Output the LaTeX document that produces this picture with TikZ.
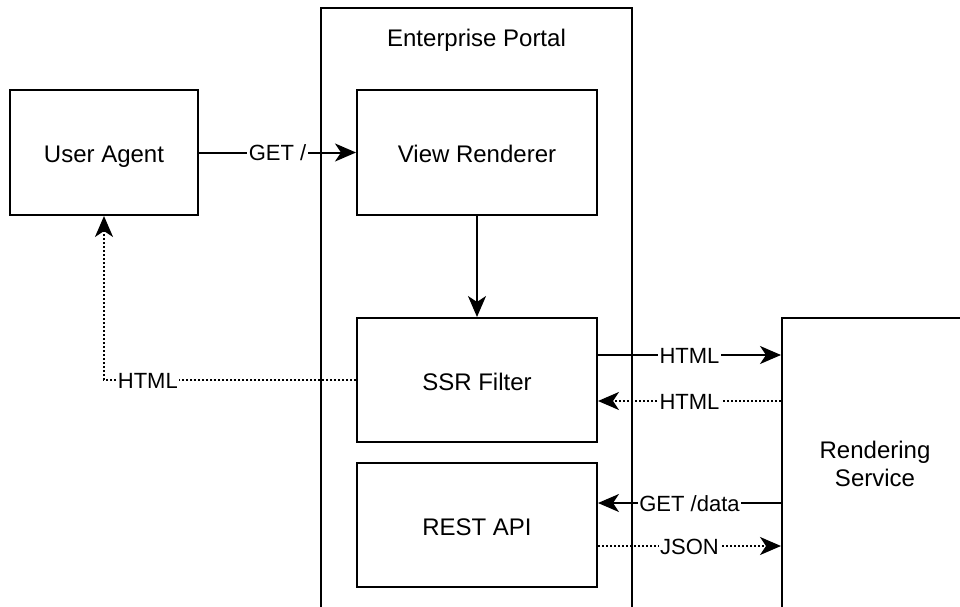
\documentclass[tikz,border=0pt]{standalone}
\usepackage{fontspec}
\setmainfont{Liberation Sans}
\usetikzlibrary{arrows.meta}
\tikzset{
  box/.style={draw, line width=2pt, fill=white, inner sep=0pt, font=\fontsize{24}{28}\selectfont, align=center},
  one/.style={text height=20pt, text depth=0pt},
  lbl/.style={fill=white, inner sep=1.5pt, text height=16pt, text depth=0pt, font=\fontsize{22}{26}\selectfont},
  conn/.style={line width=2pt, -{Stealth[length=21pt,width=18pt,inset=6pt]}},
  dotconn/.style={conn, dash pattern=on 2pt off 2pt},
}
\begin{document}
\begin{tikzpicture}[x=1pt,y=-1pt]
\clip (0,0) rectangle (960,607);
\fill[white] (0,0) rectangle (960,607);
% containers
\node[box, minimum width=311pt, minimum height=601pt] (portal) at (476.5,308.5) {};
\node[font=\fontsize{24}{28}\selectfont, text height=20pt, text depth=0pt] (ptitle) at (476.5,37) {Enterprise Portal};
\node[box, minimum width=186pt, minimum height=291pt] (rs) at (875,463.5) {Rendering\\Service};
% nodes
\node[box, one, minimum width=188pt, minimum height=125pt] (ua) at (104,152.5) {User Agent};
\node[box, one, minimum width=240pt, minimum height=125pt] (vr) at (477,152.5) {View Renderer};
\node[box, one, minimum width=240pt, minimum height=124pt] (ssr) at (477,380) {SSR Filter};
\node[box, one, minimum width=240pt, minimum height=124pt] (rest) at (477,525) {REST API};
% connectors
\draw[conn] (ua.east) -- node[lbl]{GET /} (vr.west);
\draw[conn] (vr.south) -- (ssr.north);
\coordinate (c1) at (ssr.west -| ua.south);
\draw[dotconn] (ssr.west) -- node[lbl, pos=0.826]{HTML} (c1) -- (ua.south);
\coordinate (s1) at ([yshift=25pt]ssr.east);
\coordinate (s2) at ([yshift=-21pt]ssr.east);
\coordinate (r1) at ([yshift=22pt]rest.east);
\coordinate (r2) at ([yshift=-21pt]rest.east);
\coordinate (t1) at (s1 -| rs.west);
\coordinate (t2) at (s2 -| rs.west);
\coordinate (t3) at (r1 -| rs.west);
\coordinate (t4) at (r2 -| rs.west);
\draw[conn] (s1) -- node[lbl]{HTML} (t1);
\draw[dotconn] (t2) -- node[lbl]{HTML} (s2);
\draw[conn] (t3) -- node[lbl]{GET /data} (r1);
\draw[dotconn] (r2) -- node[lbl]{JSON} (t4);
\end{tikzpicture}
\end{document}
